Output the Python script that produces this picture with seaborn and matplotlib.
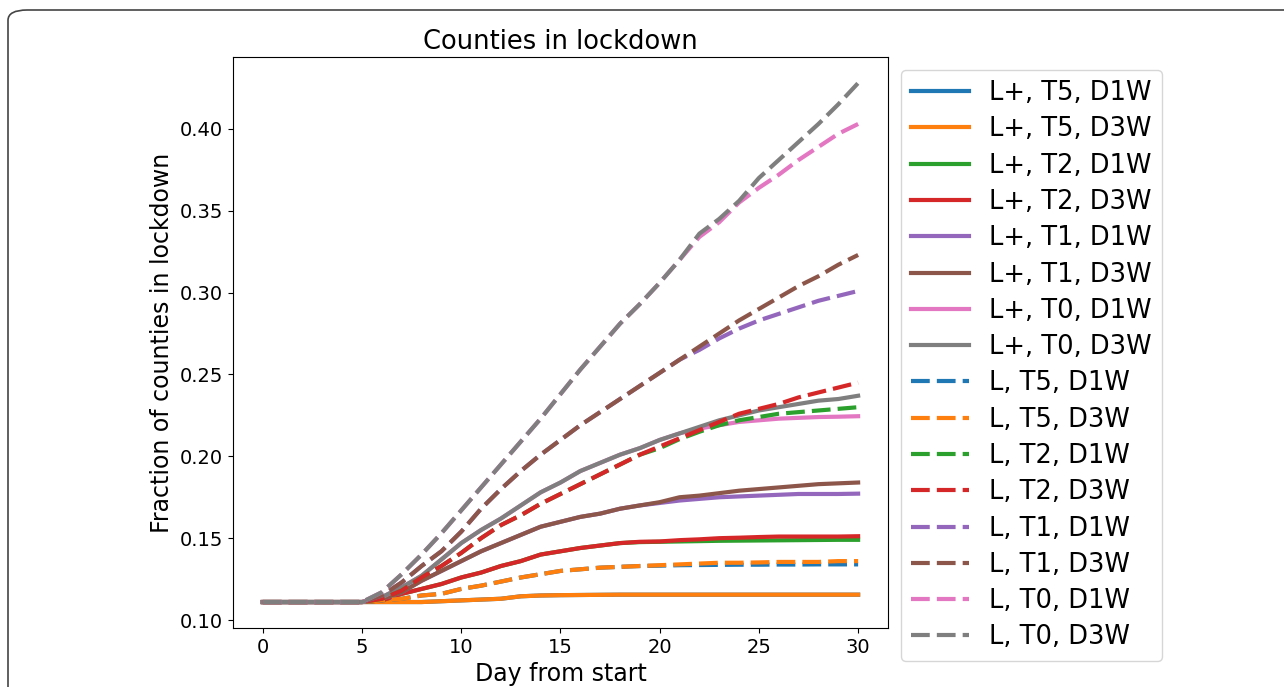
import matplotlib
matplotlib.use("Agg")
import matplotlib.pyplot as plt
import seaborn as sns
from matplotlib.patches import FancyBboxPatch

days = list(range(31))
base = [0.111] * 6

# L+ (solid)
lp_t5_d1w = base + [0.111, 0.111, 0.111, 0.1115, 0.112, 0.1125, 0.113, 0.1145, 0.115, 0.1152,
                    0.1153, 0.1154, 0.1155, 0.1155, 0.1155, 0.1155, 0.1155, 0.1155, 0.1155, 0.1155,
                    0.1155, 0.1155, 0.1155, 0.1155, 0.1155]
lp_t5_d3w = base + [0.111, 0.111, 0.111, 0.1115, 0.112, 0.1125, 0.113, 0.1145, 0.115, 0.1152,
                    0.1153, 0.1154, 0.1155, 0.1155, 0.1155, 0.1155, 0.1155, 0.1155, 0.1155, 0.1155,
                    0.1155, 0.1155, 0.1155, 0.1155, 0.1155]
lp_t2_d1w = base + [0.112, 0.116, 0.119, 0.122, 0.126, 0.129, 0.133, 0.136, 0.140, 0.142,
                    0.144, 0.1455, 0.147, 0.1476, 0.1478, 0.148, 0.1482, 0.1484, 0.1485, 0.1486,
                    0.1487, 0.1488, 0.1489, 0.149, 0.149]
lp_t2_d3w = base + [0.112, 0.116, 0.119, 0.122, 0.126, 0.129, 0.133, 0.136, 0.140, 0.142,
                    0.144, 0.1455, 0.147, 0.1478, 0.148, 0.1488, 0.1493, 0.150, 0.1503, 0.1507,
                    0.151, 0.151, 0.151, 0.151, 0.1512]
lp_t1_d1w = base + [0.113, 0.117, 0.124, 0.130, 0.136, 0.142, 0.147, 0.152, 0.157, 0.160,
                    0.163, 0.165, 0.168, 0.170, 0.1715, 0.173, 0.174, 0.175, 0.1755, 0.176,
                    0.1765, 0.177, 0.177, 0.177, 0.1772]
lp_t1_d3w = base + [0.113, 0.117, 0.124, 0.130, 0.136, 0.142, 0.147, 0.152, 0.157, 0.160,
                    0.163, 0.165, 0.168, 0.170, 0.172, 0.175, 0.176, 0.1775, 0.179, 0.180,
                    0.181, 0.182, 0.183, 0.1835, 0.184]
lp_t0_d1w = base + [0.114, 0.120, 0.127, 0.137, 0.147, 0.155, 0.162, 0.170, 0.178, 0.184,
                    0.191, 0.196, 0.201, 0.205, 0.210, 0.214, 0.217, 0.219, 0.221, 0.222,
                    0.223, 0.2235, 0.224, 0.2242, 0.2245]
lp_t0_d3w = base + [0.114, 0.120, 0.127, 0.137, 0.147, 0.155, 0.162, 0.170, 0.178, 0.184,
                    0.191, 0.196, 0.201, 0.205, 0.210, 0.214, 0.218, 0.222, 0.225, 0.228,
                    0.230, 0.232, 0.234, 0.235, 0.237]

# L (dashed)
l_t5_d1w = base + [0.112, 0.113, 0.115, 0.116, 0.119, 0.121, 0.1235, 0.126, 0.128, 0.130,
                   0.131, 0.132, 0.1325, 0.133, 0.1332, 0.1335, 0.1336, 0.1337, 0.1338, 0.1338,
                   0.1339, 0.1339, 0.134, 0.134, 0.134]
l_t5_d3w = base + [0.112, 0.113, 0.115, 0.116, 0.119, 0.121, 0.1235, 0.126, 0.128, 0.130,
                   0.131, 0.132, 0.1325, 0.133, 0.1335, 0.134, 0.1345, 0.135, 0.135, 0.1352,
                   0.1355, 0.1355, 0.1355, 0.136, 0.136]
l_t2_d1w = base + [0.113, 0.118, 0.126, 0.133, 0.141, 0.150, 0.158, 0.164, 0.171, 0.177,
                   0.183, 0.189, 0.195, 0.201, 0.205, 0.2105, 0.215, 0.219, 0.222, 0.224,
                   0.226, 0.227, 0.228, 0.229, 0.230]
l_t2_d3w = base + [0.113, 0.118, 0.126, 0.133, 0.141, 0.150, 0.158, 0.164, 0.171, 0.177,
                   0.183, 0.189, 0.195, 0.201, 0.206, 0.211, 0.216, 0.221, 0.226, 0.229,
                   0.232, 0.236, 0.239, 0.242, 0.245]
l_t1_d1w = base + [0.115, 0.123, 0.133, 0.142, 0.154, 0.168, 0.180, 0.191, 0.201, 0.210,
                   0.219, 0.227, 0.235, 0.243, 0.251, 0.259, 0.265, 0.272, 0.278, 0.283,
                   0.287, 0.291, 0.295, 0.298, 0.301]
l_t1_d3w = base + [0.115, 0.123, 0.133, 0.142, 0.154, 0.168, 0.180, 0.191, 0.201, 0.210,
                   0.219, 0.227, 0.235, 0.243, 0.251, 0.259, 0.267, 0.275, 0.283, 0.290,
                   0.297, 0.304, 0.310, 0.317, 0.323]
l_t0_d1w = base + [0.117, 0.128, 0.140, 0.153, 0.167, 0.181, 0.195, 0.209, 0.223, 0.238,
                   0.253, 0.267, 0.281, 0.293, 0.306, 0.320, 0.334, 0.343, 0.355, 0.364,
                   0.372, 0.381, 0.389, 0.397, 0.403]
l_t0_d3w = base + [0.117, 0.128, 0.140, 0.153, 0.167, 0.181, 0.195, 0.209, 0.223, 0.238,
                   0.253, 0.267, 0.281, 0.293, 0.306, 0.320, 0.336, 0.345, 0.356, 0.370,
                   0.381, 0.392, 0.403, 0.415, 0.428]

labels = ["L+, T5, D1W", "L+, T5, D3W", "L+, T2, D1W", "L+, T2, D3W",
          "L+, T1, D1W", "L+, T1, D3W", "L+, T0, D1W", "L+, T0, D3W",
          "L, T5, D1W", "L, T5, D3W", "L, T2, D1W", "L, T2, D3W",
          "L, T1, D1W", "L, T1, D3W", "L, T0, D1W", "L, T0, D3W"]
series = [lp_t5_d1w, lp_t5_d3w, lp_t2_d1w, lp_t2_d3w, lp_t1_d1w, lp_t1_d3w, lp_t0_d1w, lp_t0_d3w,
          l_t5_d1w, l_t5_d3w, l_t2_d1w, l_t2_d3w, l_t1_d1w, l_t1_d3w, l_t0_d1w, l_t0_d3w]

colors = sns.color_palette("tab10", 8)

fig = plt.figure(figsize=(12.84, 6.87), dpi=100)
ax = fig.add_axes([0.1815, 0.0859, 0.51, 0.831])

for i, (lab, vals) in enumerate(zip(labels, series)):
    ls = "-" if i < 8 else (0, (4.5, 1.7))
    sns.lineplot(x=days, y=vals, ax=ax, color=colors[i % 8], linestyle=ls,
                 linewidth=3, label=lab)

ax.set_title("Counties in lockdown", fontsize=18.5)
ax.set_xlabel("Day from start", fontsize=17)
ax.set_ylabel("Fraction of counties in lockdown", fontsize=17)
ax.tick_params(labelsize=14)
ax.set_xticks([0, 5, 10, 15, 20, 25, 30])
ax.set_yticks([0.10, 0.15, 0.20, 0.25, 0.30, 0.35, 0.40])
ax.legend(loc="upper left", bbox_to_anchor=(1.0, 1.0), fontsize=18.5,
          handlelength=2.26, handletextpad=0.78, labelspacing=0.4)

# rounded frame around the figure
frame = FancyBboxPatch((8 / 1284, -0.1), 1.2, 1.0 + 0.1 - 10 / 687,
                       boxstyle="round,pad=0,rounding_size=0.015",
                       transform=fig.transFigure, fill=False,
                       edgecolor="#444444", linewidth=1.2, clip_on=False)
fig.patches.append(frame)

fig.savefig("out.png", dpi=100)
